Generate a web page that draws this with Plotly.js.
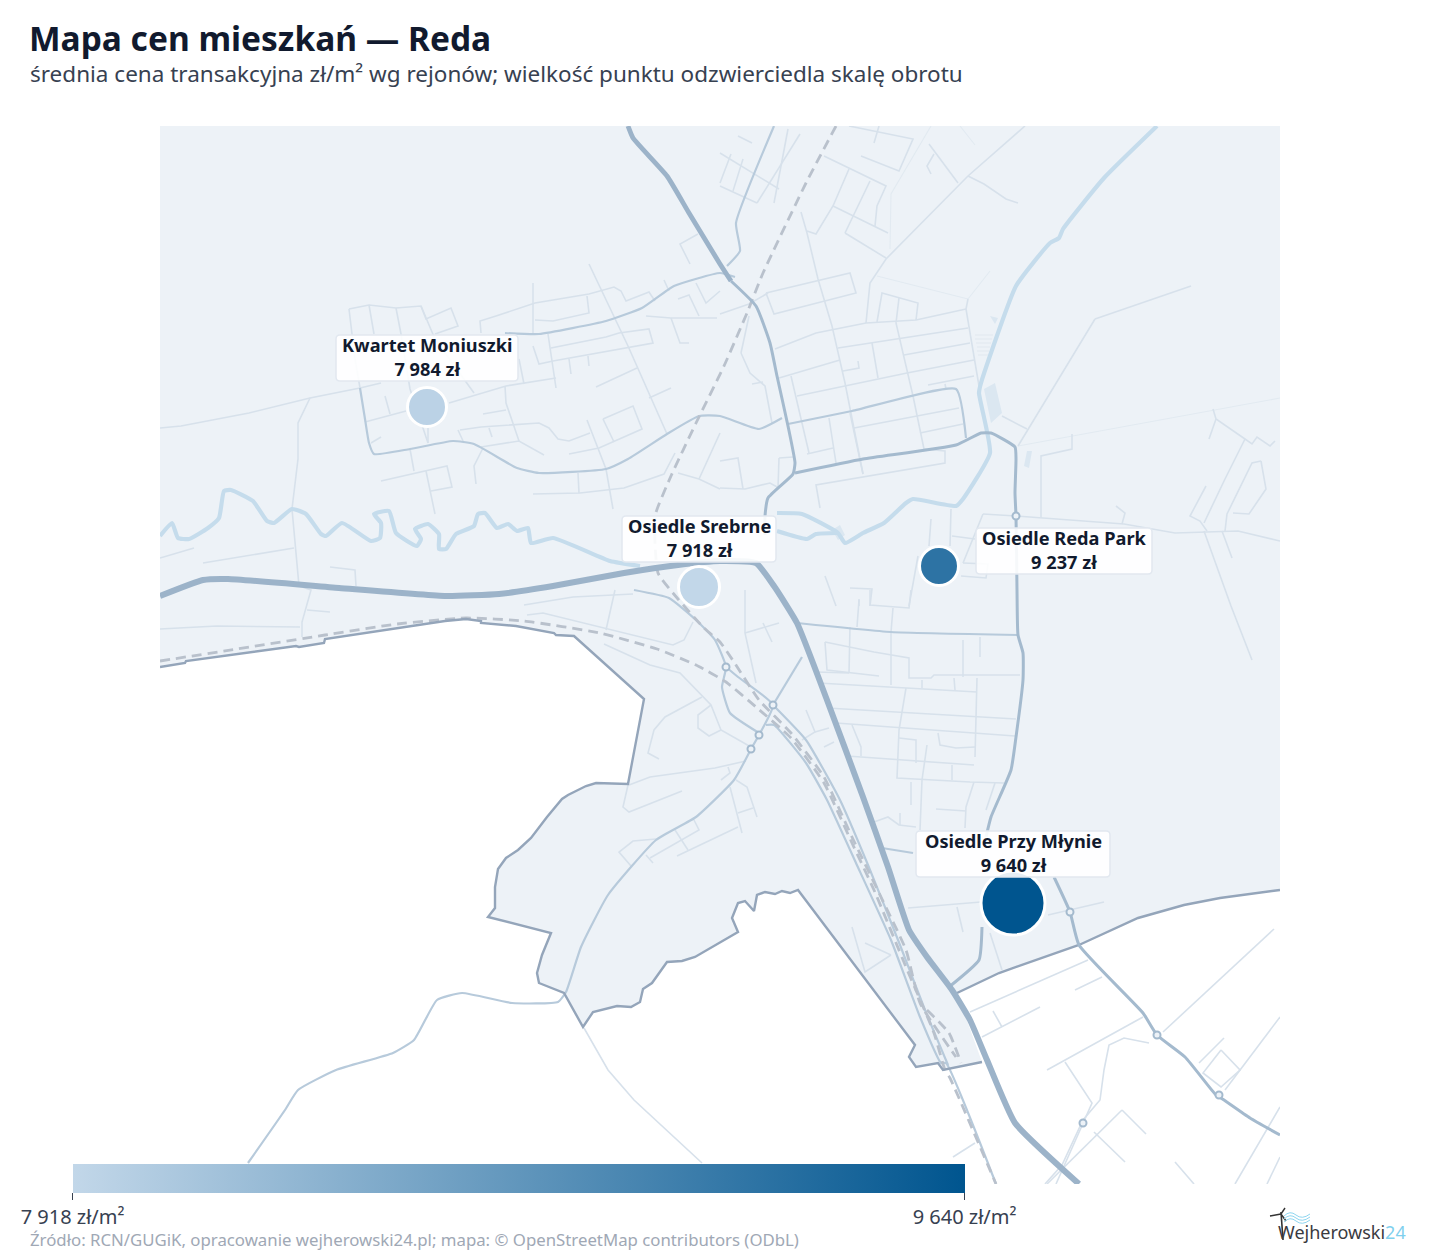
<!DOCTYPE html>
<html lang="pl">
<head>
<meta charset="utf-8">
<title>Mapa cen mieszkań — Reda</title>
<script src="https://cdn.plot.ly/plotly-3.0.1.min.js"></script>
<style>html,body{margin:0;padding:0;background:#fff}#chart{width:1440px;height:1260px}</style>
</head>
<body>
<div id="chart"></div>
<script>
// ---------- values ----------
const districts = ["Kwartet Moniuszki", "Osiedle Srebrne", "Osiedle Reda Park", "Osiedle Przy Młynie"];
const prices = [7984, 7918, 9237, 9640];
const priceLabels = ["7 984 zł", "7 918 zł", "9 237 zł", "9 640 zł"];
const mapX = [427, 699, 939, 1013];
const mapY = [407, 587, 566, 903];
const pointSize = [39, 41, 39, 64];
const labelX = [427, 699, 1064, 1013];
const labelY = [358, 539, 551, 854];
const labelHalfWidth = [91, 77, 88, 97];
const colorTicks = [7918, 9640];
const colorTickLabels = ["7 918 zł/m²", "9 640 zł/m²"];

const landOutline = [[160,126],[1280,126],[1280,890],[1220,898],[1184,905],[1138,918],[1079,945],[999,973],[957,993],[982,1062],[943,1070],[938,1063],[916,1067],[909,1057],[915,1045],[798,890],[790,893],[782,891],[775,894],[765,892],[757,895],[754,911],[745,901],[738,903],[732,918],[738,932],[695,957],[682,961],[667,962],[652,983],[643,989],[640,1002],[631,1007],[617,1006],[593,1012],[583,1027],[564,993],[539,983],[537,973],[542,955],[551,933],[488,917],[495,908],[495,887],[498,869],[506,858],[518,850],[531,838],[547,817],[562,799],[568,795],[586,786],[596,783],[628,784],[644,699],[574,636],[556,635],[554,633],[516,626],[481,623],[481,621],[466,619],[445,621],[443,622],[393,629],[325,639],[324,643],[299,647],[296,646],[186,661],[185,663],[160,667]];
const boundary = [[[160,667],[185,663],[186,661],[296,646],[299,647],[324,643],[325,639],[393,629],[443,622],[445,621],[466,619],[481,621],[481,623],[516,626],[554,633],[556,635],[574,636],[644,699],[628,784],[596,783],[586,786],[568,795],[562,799],[547,817],[531,838],[518,850],[506,858],[498,869],[495,887],[495,908],[488,917],[551,933],[542,955],[537,973],[539,983],[564,993],[583,1027],[593,1012],[617,1006],[631,1007],[640,1002],[643,989],[652,983],[667,962],[682,961],[695,957],[738,932],[732,918],[738,903],[745,901],[754,911],[757,895],[765,892],[775,894],[782,891],[790,893],[798,890],[915,1045],[909,1057],[916,1067],[938,1063],[943,1070],[982,1062]],
 [[957,993],[999,973],[1079,945],[1138,918],[1184,905],[1220,898],[1280,890]]];

const highway = [[[160,596],[203,580],[228,579],[339,588],[446,596],[499,594],[553,586],[624,573],[678,565],[720,561],[756,563],[774,586],[797,623],[827,700],[863,797],[888,867],[909,930],[927,957],[952,990],[970,1020],[987,1060],[1015,1123],[1079,1184]]];
const northRoad = [[[628,126],[633,138],[667,176],[689,213],[720,264],[731,281]]];
const secondaryRoads = [
 [[731,281],[756,306],[770,343],[777,376],[788,426],[795,463],[793,474],[768,498],[765,516],[765,535]],
 [[795,473],[863,459],[956,445],[981,433],[991,433],[1015,447],[1016,459],[1015,493],[1016,516],[1017,590],[1018,635],[1023,653],[1023,680],[1016,737],[1011,770],[991,817],[986,837]],
 [[1054,877],[1070,912],[1079,945],[1143,1013],[1157,1035],[1185,1057],[1216,1095],[1221,1098],[1250,1118],[1280,1135]],
 [[982,927],[979,960],[949,987]]
];
const tertiaryRoads = [
 [[360,388],[365,419],[369,443],[374,454],[410,449],[453,441],[474,444],[517,468],[539,473],[606,469],[628,459],[667,434],[699,416],[720,416],[759,429],[782,418]],
 [[505,333],[539,334],[606,321],[642,308],[674,286],[720,273],[735,277]],
 [[774,126],[736,223],[740,251],[727,266]],
 [[788,424],[852,411],[956,389],[966,438]],
 [[797,623],[891,632],[1018,635]],
 [[751,749],[734,780],[696,817],[656,840],[608,895],[581,947],[566,992],[558,1002],[512,1003],[462,993],[437,1000],[414,1040],[393,1053],[336,1070],[298,1090],[285,1110],[248,1163]],
 [[634,590],[669,598],[696,620],[715,640],[726,667],[722,687],[730,713],[759,733]],
 [[726,667],[738,677],[773,705],[759,735],[751,749]],
 [[766,725],[774,725],[806,763],[827,800],[856,863],[891,940],[920,1017],[941,1063],[946,1063],[996,1184]],
 [[773,705],[806,740],[840,800],[868,865],[900,945],[925,1010],[948,1065]],
 [[882,848],[913,853]],
 [[802,657],[773,705]]
];
const minorRoads = [
 [[160,428],[181,426],[249,413],[310,398],[360,388],[381,383]],
 [[349,309],[369,305],[396,308],[421,306],[426,319],[451,308],[458,326],[435,334]],
 [[349,309],[355,359],[360,388]],[[369,305],[374,334]],[[396,308],[401,334],[410,389],[428,443]],[[421,306],[435,339],[474,393]],
 [[449,403],[506,386],[556,378]],[[519,359],[524,384]],[[533,283],[533,334]],
 [[481,333],[480,321],[496,316],[535,303],[589,294],[614,287],[621,291],[626,301],[649,292],[655,301]],
 [[587,296],[589,313],[553,321],[535,320]],
 [[589,264],[603,293],[617,323],[628,346],[667,434]],
 [[533,346],[539,364],[553,361],[626,348],[653,343],[649,329],[619,333],[606,337],[551,348]],
 [[548,334],[556,388]],[[569,359],[571,374]],[[588,356],[589,366]],[[637,368],[596,387]],[[671,388],[649,398]],[[664,280],[669,291]],
 [[690,264],[680,244],[698,234]],[[646,316],[671,318],[717,318]],[[671,318],[680,343],[689,343]],[[678,299],[689,295],[699,316]],[[696,283],[706,303],[720,291]],
 [[385,396],[390,414]],[[365,422],[406,411]],[[371,443],[381,437]],[[428,428],[428,443]],[[410,449],[414,471]],
 [[381,481],[447,466],[452,487],[431,491]],[[426,471],[435,514]],[[505,386],[506,403],[519,441]],[[483,414],[506,410]],
 [[460,430],[481,427],[539,423],[549,428],[558,439],[569,441],[590,433]],[[458,430],[464,443]],[[489,428],[492,437]],
 [[481,447],[519,441],[544,455]],[[483,448],[474,466],[476,484]],[[587,420],[606,469],[613,509]],
 [[603,419],[633,406],[642,429],[599,448],[569,454]],[[603,419],[614,442]],[[578,473],[579,493]],
 [[533,494],[580,493],[624,488],[664,474],[675,453]],[[678,473],[699,479],[720,489]],[[699,479],[720,433]],
 [[310,398],[298,423],[298,459],[292,509],[299,586],[311,590],[302,622],[302,637]],
 [[160,558],[194,548]],[[203,563],[294,548]],[[330,567],[355,570],[356,586]],[[307,610],[330,612]],[[160,629],[217,626],[300,627]],
 [[524,605],[573,597],[633,594]],[[615,590],[606,630]],[[527,615],[543,613],[673,645],[684,640],[693,622]],
 [[604,644],[650,665],[680,673],[711,705],[721,730],[751,747]],[[702,697],[665,717],[654,730],[648,753],[659,759]],
 [[711,705],[698,715],[698,728],[709,736],[721,730]],[[629,785],[650,777],[715,768],[746,761]],[[628,785],[623,807],[629,812],[682,791]],
 [[728,767],[730,773],[721,780]],[[730,787],[742,833]],[[736,780],[747,787],[757,817]],[[738,813],[753,808]],[[738,827],[677,856]],
 [[694,820],[699,830],[650,858]],[[675,830],[688,850]],[[656,839],[633,841],[619,852],[631,866]],[[646,855],[653,863]],
 [[584,1028],[608,1070],[634,1100],[702,1163]],
 [[800,134],[757,203]],[[788,129],[774,203]],[[720,186],[757,203]],[[720,153],[779,189]],[[738,136],[752,143]],[[743,159],[733,191]],[[731,154],[720,183]],
 [[849,126],[913,139],[899,171],[861,156]],[[879,126],[874,143]],[[824,156],[886,186],[877,206],[875,226]],[[845,233],[870,181]],[[849,169],[833,206],[816,234],[807,231]],
 [[833,206],[888,233]],[[845,233],[886,258]],[[1025,126],[968,176],[886,259],[870,283],[866,323]],[[929,144],[958,183]],[[934,154],[927,166],[931,174]],
 [[968,176],[984,184],[1006,199],[1018,203]],[[801,212],[807,233],[818,279],[832,326],[845,383],[863,474]],
 [[766,293],[850,273],[856,293],[774,314],[766,293]],[[775,349],[816,333],[866,323],[916,320],[966,309]],[[877,322],[882,293],[918,303],[916,320]],
 [[899,298],[896,323],[913,396],[924,449]],[[838,348],[902,338],[968,328]],[[872,343],[878,378]],[[779,378],[840,360]],[[904,355],[970,343]],
 [[797,396],[907,373],[974,360]],[[843,371],[859,368],[858,361]],[[791,376],[809,453]],[[829,418],[836,463]],[[850,413],[863,474]],[[854,428],[959,408]],
 [[920,433],[963,424]],[[807,454],[833,448]],[[928,385],[974,376]],[[945,384],[946,389]],[[966,309],[979,386]],[[968,299],[966,309]],
 [[924,449],[945,451],[945,463],[816,485],[820,508]],[[720,461],[738,458],[743,489]],[[720,488],[745,489],[770,483],[779,488]],[[779,458],[793,457]],[[779,458],[778,488]],
 [[741,353],[750,373],[765,386],[772,423]],[[741,353],[749,316]],[[720,314],[749,304],[768,293]],[[752,384],[763,382]],
 [[1002,416],[1027,429]],[[1095,319],[1191,286]],[[1095,319],[1018,446]],
 [[1213,409],[1216,419],[1245,439],[1252,444],[1257,437],[1270,446],[1275,441]],[[1216,419],[1209,439]],[[1245,439],[1225,479],[1204,523]],
 [[1206,486],[1190,516],[1200,521],[1207,531]],[[1261,461],[1252,463],[1227,514],[1225,531]],[[1261,461],[1266,489],[1249,514],[1233,513]],
 [[983,514],[1016,516],[1124,524],[1175,533],[1238,531],[1280,541]],[[1116,506],[1125,513],[1122,524]],[[1204,531],[1231,606],[1252,660]],[[1222,531],[1232,558]],
 [[1041,518],[1041,456],[1072,449],[1072,434]],[[983,514],[963,563]],[[951,509],[950,546]],[[931,519],[929,546]],[[952,536],[975,539]],
 [[963,563],[988,564],[986,578],[961,576]],[[918,556],[909,606]],[[825,576],[836,606]],[[850,588],[872,589],[870,606]],[[859,599],[859,606]],
 [[859,600],[857,627]],[[870,590],[870,605],[909,608],[911,590]],[[893,608],[891,632]],[[825,642],[874,652],[909,658],[909,678],[931,678],[934,675],[1020,675]],
 [[850,627],[849,673]],[[825,642],[827,670],[879,676]],[[891,632],[891,685]],[[816,672],[849,673]],[[818,683],[977,692]],[[922,680],[922,688]],[[954,678],[955,690]],
 [[977,678],[975,757]],[[963,640],[963,677]],[[980,637],[980,657]],[[827,708],[1016,719]],[[836,723],[1015,736]],[[906,688],[899,730],[897,778],[970,782],[1004,783]],
 [[847,756],[974,765]],[[852,725],[861,747],[861,756]],[[899,738],[916,740],[916,763]],[[927,745],[922,780],[920,830]],[[938,733],[940,745],[956,748],[975,747]],
 [[952,765],[952,780]],[[911,782],[911,805]],[[974,782],[966,807],[965,828]],[[936,809],[966,811]],[[995,783],[986,810]],
 [[874,822],[888,817],[899,825],[916,827]],[[900,813],[900,825]],[[806,710],[815,732],[802,740]],[[815,732],[829,728]],[[824,747],[834,742]],
 [[745,590],[745,633],[756,683]],[[745,633],[779,623]],[[763,623],[772,642]],
 [[908,908],[981,902]],[[957,907],[963,932]],[[1048,915],[1104,902]],[[990,933],[1002,970]],[[891,955],[865,972],[852,927]],[[865,943],[891,955]],
 [[1088,960],[970,1012]],[[1102,977],[1075,990]],[[1040,1007],[982,1037]],[[993,1011],[1002,1027]],[[1143,1017],[1047,1070]],
 [[1274,929],[1163,1032]],[[1280,1017],[1225,1090]],[[1149,1043],[1124,1038],[1109,1045],[1104,1070],[1100,1100],[1083,1120],[1062,1165],[1045,1184]],
 [[1224,1038],[1199,1063]],[[1065,1062],[1092,1103],[1056,1184]],[[1122,1110],[1047,1184]],[[1122,1110],[1146,1134]],[[1094,1132],[1125,1162]],[[1175,1162],[1194,1184]],
 [[1280,1107],[1235,1184]],[[1280,1157],[1267,1184]],[[1221,1050],[1240,1070],[1221,1087],[1203,1073],[1221,1050]],[[953,1157],[975,1143]]
];
const faintRoads = [
 [[1018,446],[1280,398]],[[931,126],[891,194],[890,249]],[[877,276],[968,299]],[[968,299],[990,271]],
 [[975,335],[993,335]],[[975,339],[992,339]],[[976,343],[991,343]],[[977,347],[990,347]],[[977,351],[989,351]],[[978,355],[988,355]],[[960,126],[975,145]]
];
const riverLines = [
 [[1157,126],[1104,178],[1063,229],[1059,238],[1050,243],[1016,286],[981,383],[979,393],[990,453],[963,499],[956,506],[913,499],[906,503],[884,523],[863,533],[845,543],[838,533],[802,514],[777,513]],
 [[777,531],[807,539],[816,534],[838,533]],
 [[160,536],[172,523],[178,538],[189,539],[208,528],[219,518],[224,491],[231,490],[253,501],[267,521],[274,523],[292,509],[306,514],[321,534],[326,536],[342,523],[371,541],[380,538],[381,523],[374,514],[389,511],[396,533],[417,546],[421,539],[415,529],[428,524],[439,534],[439,549],[446,549],[456,534],[474,526],[478,514],[485,513],[497,528],[508,524],[517,531],[528,528],[531,543],[553,538],[610,561],[640,566]]
];
const paleBlobs = [
 [[984,389],[995,383],[1002,413],[991,423],[984,389]],
 [[990,316],[998,318],[995,324],[990,316]],
 [[1027,451],[1032,451],[1029,468],[1024,466],[1027,451]],
 [[832,530],[840,525],[845,535],[838,540],[832,530]]
];
const railLines = [
 [[160,661],[237,649],[325,635],[397,624],[466,618],[524,621],[600,633],[657,649],[696,665],[726,682],[756,707],[791,738],[824,783],[852,843],[874,890],[906,967],[934,1033],[945,1070],[950,1078],[996,1184]],
 [[836,126],[806,183],[763,273],[747,313],[724,366],[696,423],[671,476],[655,516],[658,573],[678,599],[703,627],[720,642],[734,662],[759,700],[791,733],[824,777],[852,837],[881,897],[906,950],[920,1003],[956,1057]],
 [[927,1010],[949,1033],[961,1063]]
];
const roundaboutX = [1016, 1070, 1157, 1219, 773, 759, 751, 726, 1083];
const roundaboutY = [516, 912, 1035, 1095, 705, 735, 749, 667, 1123];

// ---------- drawing ----------
const flat = (lines) => {
  const x = [], y = [];
  lines.forEach(l => { l.forEach(p => { x.push(p[0]); y.push(p[1]); }); x.push(null); y.push(null); });
  return {x, y};
};
const lineTrace = (lines, color, width, extra) => Object.assign({}, flat(lines), {
  type: "scatter", mode: "lines", hoverinfo: "skip", showlegend: false,
  line: Object.assign({color, width}, extra || {})
});
const land = Object.assign(flat([landOutline]), {
  type: "scatter", mode: "lines", fill: "toself", fillcolor: "#edf2f7",
  line: {width: 0, color: "#edf2f7"}, hoverinfo: "skip", showlegend: false
});
const blobs = Object.assign(flat(paleBlobs), {
  type: "scatter", mode: "lines", fill: "toself", fillcolor: "#dbe7f1",
  line: {width: 0, color: "#dbe7f1"}, hoverinfo: "skip", showlegend: false
});
const smooth = {shape: "spline", smoothing: 0.45};
const bubbleScale = [[0, "#c2d7e9"], [1, "#00558f"]];
const uiFont = "'Noto Sans', sans-serif";
const traces = [
  land,
  blobs,
  lineTrace(faintRoads, "#e2eaf1", 1.1),
  lineTrace(minorRoads, "#d7e1eb", 1.6),
  lineTrace(riverLines, "#c5dcec", 4.2, smooth),
  lineTrace(tertiaryRoads, "#b7cadb", 2.2, smooth),
  lineTrace(railLines, "#b9c1cc", 2.8, Object.assign({dash: "10px,6px"}, smooth)),
  lineTrace(boundary, "#94a5ba", 2.4),
  lineTrace(secondaryRoads, "#a4bace", 3, smooth),
  lineTrace(northRoad, "#9cb3c9", 4.8, smooth),
  lineTrace(highway, "#9cb3c9", 6, smooth),
  {type: "scatter", mode: "markers", x: roundaboutX, y: roundaboutY, hoverinfo: "skip", showlegend: false,
   marker: {size: 7, color: "#edf2f7", line: {color: "#a4bace", width: 2}}},
  {type: "scatter", mode: "markers", x: mapX, y: mapY, text: districts, hoverinfo: "text", showlegend: false,
   marker: {size: pointSize, color: prices, cmin: 7918, cmax: 9640, colorscale: bubbleScale, opacity: 1,
     line: {color: "#ffffff", width: 3},
     colorbar: {orientation: "h", xref: "container", yref: "container", x: 93.33 / 1440, xanchor: "left",
       y: 30 / 1260, yanchor: "bottom", lenmode: "pixels", len: 892, thicknessmode: "pixels", thickness: 29,
       xpad: 0, ypad: 0, outlinewidth: 0, borderwidth: 0, ticks: "outside", ticklen: 7, tickwidth: 1, tickcolor: "#374151",
       tickmode: "array", tickvals: colorTicks, ticktext: colorTickLabels,
       tickfont: {family: uiFont, size: 20, color: "#374151"}}}}
];
const px = v => (v - 160) / 1120;
const py = v => (1184 - v) / 1058;
const textAnn = (x, y, text, size, color, anchor) => ({
  xref: "paper", yref: "paper", x: px(x), y: py(y), xanchor: anchor || "left", yanchor: "middle", showarrow: false,
  text, align: "center", font: {family: uiFont, size, color}
});
const labelBox = districts.map((d, i) => {
  const l = labelX[i] - labelHalfWidth[i], r = labelX[i] + labelHalfWidth[i], t = labelY[i] - 23, b = labelY[i] + 23, c = 4;
  return {type: "path", xref: "x", yref: "y", layer: "above", fillcolor: "rgba(255,255,255,0.9)", line: {color: "#e2e8f0", width: 1.5},
    path: `M ${l + c} ${t} L ${r - c} ${t} Q ${r} ${t} ${r} ${t + c} L ${r} ${b - c} Q ${r} ${b} ${r - c} ${b} L ${l + c} ${b} Q ${l} ${b} ${l} ${b - c} L ${l} ${t + c} Q ${l} ${t} ${l + c} ${t} Z`};
});
const labelTexts = districts.map((d, i) => textAnn(labelX[i], labelY[i] - 1, "<b>" + d + "<br>" + priceLabels[i] + "</b>", 18.2, "#111a2e", "center"));
const logoLine = (x0, y0, x1, y1, color, width) => ({type: "line", xref: "paper", yref: "paper", x0: px(x0), y0: py(y0), x1: px(x1), y1: py(y1), line: {color, width}});
const wave = (y, c) => ({type: "path", xref: "paper", yref: "paper", line: {color: c, width: 1},
  path: `M ${px(1284)} ${py(y)} Q ${px(1290)} ${py(y - 6)} ${px(1296)} ${py(y - 1)} T ${px(1310)} ${py(y - 2)}`});
const layout = {
  width: 1440, height: 1260, autosize: false,
  paper_bgcolor: "#ffffff", plot_bgcolor: "#ffffff",
  margin: {l: 160, r: 160, t: 126, b: 76, pad: 0, autoexpand: false},
  showlegend: false, hovermode: "closest",
  title: {
    text: "<b>Mapa cen mieszkań — Reda</b>", xref: "container", yref: "container", x: 29 / 1440, xanchor: "left",
    y: 1 - 39 / 1260, yanchor: "middle",
    font: {family: uiFont, size: 33.5, color: "#111a2e"}
  },
  xaxis: {range: [160, 1280], visible: false, fixedrange: true},
  yaxis: {range: [1184, 126], visible: false, fixedrange: true},
  annotations: labelTexts.concat([
    textAnn(28, 74, "średnia cena transakcyjna zł/m² wg rejonów; wielkość punktu odzwierciedla skalę obrotu", 22.5, "#374151"),
    textAnn(28, 1239, "Źródło: RCN/GUGiK, opracowanie wejherowski24.pl; mapa: © OpenStreetMap contributors (ODbL)", 16.8, "#a0a8b5"),
    textAnn(1276, 1232, "Wejherowski<span style='color:#7fd0ee'>24</span>", 18, "#3a3a3f")
  ]),
  shapes: labelBox.concat([
    logoLine(1281, 1212, 1283, 1240, "#333333", 1.6),
    logoLine(1270, 1216, 1281, 1214, "#333333", 1.6),
    logoLine(1281, 1214, 1285, 1208, "#333333", 1.4),
    logoLine(1281, 1214, 1286, 1221, "#333333", 1.4),
    wave(1216, "#8fd6f0"), wave(1219, "#8fd6f0"), wave(1222, "#8fd6f0")
  ])
};
Plotly.newPlot("chart", traces, layout, {displayModeBar: false, responsive: false});
</script>
</body>
</html>
